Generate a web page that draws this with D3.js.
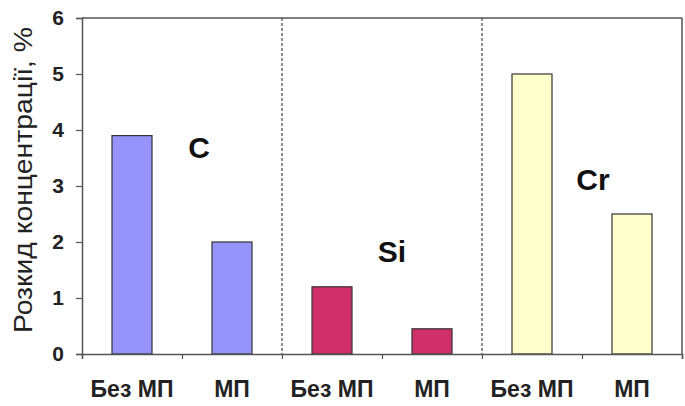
<!DOCTYPE html>
<html><head><meta charset="utf-8">
<script src="https://cdn.jsdelivr.net/npm/d3@7"></script>
<style>body{margin:0;background:#fff}svg{display:block}</style>
</head><body>
<script>
const categories = ["Без МП","МП","Без МП","МП","Без МП","МП"];
const elements = ["C","C","Si","Si","Cr","Cr"];
const values = [3.9, 2.0, 1.2, 0.45, 5.0, 2.5];
const groupLabels = ["C","Si","Cr"];
const groupLabelX = [1.17, 3.1, 5.11];
const groupLabelY = [3.5, 1.64, 2.93];
const colors = {C:"#9494FA", Si:"#D0306A", Cr:"#FFFFCC"};
const yTicks = [0,1,2,3,4,5,6];

const W=685,H=406;
const m={left:82,right:3,top:18,bottom:52};
const svg=d3.select("body").append("svg").attr("width",W).attr("height",H);
const x=d3.scaleBand().domain(d3.range(categories.length)).range([m.left,W-m.right]).paddingInner(0.6).paddingOuter(0.3);
const y=d3.scaleLinear().domain([0,6]).range([H-m.bottom,m.top]);
const xOuter=d3.scaleLinear().domain([0,categories.length]).range([m.left,W-m.right]);
const font="Liberation Sans, Arial, sans-serif";

svg.append("line").attr("x1",m.left).attr("x2",W-m.right).attr("y1",m.top).attr("y2",m.top).attr("stroke","#555").attr("stroke-width",1.5);
svg.append("line").attr("x1",W-m.right).attr("x2",W-m.right).attr("y1",m.top).attr("y2",H-m.bottom).attr("stroke","#555").attr("stroke-width",1.5);

[2,4].forEach(k=>{
  svg.append("line").attr("x1",xOuter(k)).attr("x2",xOuter(k)).attr("y1",m.top).attr("y2",H-m.bottom)
   .attr("stroke","#444").attr("stroke-width",1.2).attr("stroke-dasharray","3,2");
});

svg.selectAll("rect.bar").data(values).join("rect")
  .attr("x",(d,i)=>x(i)).attr("width",x.bandwidth())
  .attr("y",d=>y(d)).attr("height",d=>y(0)-y(d))
  .attr("fill",(d,i)=>colors[elements[i]]).attr("stroke","#333").attr("stroke-width",1.2);

const ya=svg.append("g").attr("transform",`translate(${m.left},0)`)
  .call(d3.axisLeft(y).tickValues(yTicks).tickSize(6).tickPadding(12).tickFormat(d3.format("d")));
ya.select(".domain").attr("stroke","#555").attr("stroke-width",1.5);
ya.selectAll(".tick line").attr("stroke","#555").attr("stroke-width",1.2);
ya.selectAll("text").attr("font-family",font).attr("font-weight","bold").attr("font-size",21).attr("fill","#222");

const xa=svg.append("g").attr("transform",`translate(0,${H-m.bottom})`)
  .call(d3.axisBottom(xOuter).tickValues(d3.range(categories.length+1)).tickSize(5).tickFormat(""));
xa.select(".domain").attr("stroke","#555").attr("stroke-width",1.5);
xa.selectAll(".tick line").attr("stroke","#555").attr("stroke-width",1.2);

svg.selectAll("text.cat").data(categories).join("text").attr("class","cat")
  .attr("x",(d,i)=>x(i)+x.bandwidth()/2).attr("y",397)
  .attr("text-anchor","middle").attr("font-family",font)
  .attr("font-weight","bold").attr("font-size",23).attr("fill","#222").text(d=>d);

svg.selectAll("text.grp").data(groupLabels).join("text").attr("class","grp")
  .attr("x",(d,j)=>xOuter(groupLabelX[j]))
  .attr("y",(d,j)=>y(groupLabelY[j]))
  .attr("text-anchor","middle").attr("font-family",font)
  .attr("font-weight","bold").attr("font-size",30).attr("fill","#111").text(d=>d);

svg.append("text").attr("transform","translate(32,180) rotate(-90)")
  .attr("text-anchor","middle").attr("font-family",font)
  .attr("font-size",26).attr("textLength",306).attr("lengthAdjust","spacingAndGlyphs")
  .attr("fill","#222").text("Розкид концентрації, %");
</script>
</body></html>
